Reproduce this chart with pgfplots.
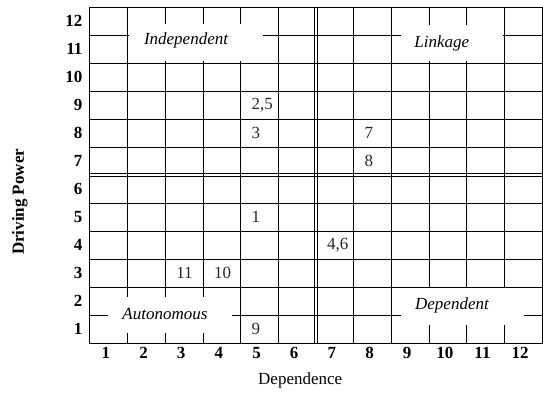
\documentclass[border=0pt]{standalone}
\usepackage{fontspec}
\setmainfont{Liberation Serif}
\usepackage{pgfplots}
\pgfplotsset{compat=1.18}
\begin{document}
\begin{tikzpicture}[x=1pt,y=1pt]
\useasboundingbox (-90,-51) rectangle (453,343);
\begin{axis}[at={(0,0)}, anchor=south west, scale only axis,
  width=452pt, height=336pt,
  xmin=0.5, xmax=12.5, ymin=0.5, ymax=12.5,
  xtick={1,...,12}, ytick={1,...,12},
  minor xtick={1.5,2.5,3.5,4.5,5.5,7.5,8.5,9.5,10.5,11.5},
  minor ytick={1.5,2.5,3.5,4.5,5.5,7.5,8.5,9.5,10.5,11.5},
  major tick length=0pt, minor tick length=0pt,
  xminorgrids, yminorgrids,
  minor grid style={black, line width=1pt},
  axis line style={black, line width=1pt},
  /pgf/number format/assume math mode=true,
  ticklabel style={font=\fontsize{17}{20}\selectfont\bfseries},
  xticklabel style={yshift=-1pt, xshift=-3pt},
  yticklabel style={xshift=-4pt},
  xlabel={Dependence}, ylabel={Driving Power},
  xlabel style={font=\fontsize{17}{20}\selectfont, at={(axis description cs:0.465,-0.11)}, anchor=center},
  ylabel style={font=\fontsize{17}{20}\selectfont\bfseries, at={(axis description cs:-0.155,0.42)}, anchor=center},
  clip=false]
\addplot[draw=none, mark=none, nodes near coords, point meta=explicit symbolic,
  nodes near coords style={anchor=west, inner sep=0pt, xshift=-8pt, font=\fontsize{17}{20}\selectfont, text=black!85}]
  table[meta=label] {
x y label
5 9 2,5
5 8 3
8 8 7
8 7 8
5 5 1
7 4 4,6
3 3 11
4 3 10
5 1 9
};
\draw[black, line width=0.9pt] ([yshift=-1.4pt]axis cs:0.5,6.5) -- ([yshift=-1.4pt]axis cs:12.5,6.5);
\draw[black, line width=0.9pt] ([yshift=1.4pt]axis cs:0.5,6.5) -- ([yshift=1.4pt]axis cs:12.5,6.5);
\draw[black, line width=0.9pt] ([xshift=-1.4pt]axis cs:6.5,0.5) -- ([xshift=-1.4pt]axis cs:6.5,12.5);
\draw[black, line width=0.9pt] ([xshift=1.4pt]axis cs:6.5,0.5) -- ([xshift=1.4pt]axis cs:6.5,12.5);
\fill[white] (axis cs:1.54,10.56) rectangle (axis cs:5.09,11.89);
\fill[white] (axis cs:8.75,10.56) rectangle (axis cs:11.46,11.86);
\fill[white] (axis cs:0.98,0.86) rectangle (axis cs:4.27,2.14);
\fill[white] (axis cs:8.75,1.14) rectangle (axis cs:12.02,2.46);
\node[font=\fontsize{17}{20}\selectfont\itshape] at (axis cs:3.05,11.29) {Independent};
\node[font=\fontsize{17}{20}\selectfont\itshape] at (axis cs:9.84,11.21) {Linkage};
\node[font=\fontsize{17}{20}\selectfont\itshape] at (axis cs:2.49,1.54) {Autonomous};
\node[font=\fontsize{17}{20}\selectfont\itshape] at (axis cs:10.11,1.86) {Dependent};
\end{axis}
\end{tikzpicture}
\end{document}
